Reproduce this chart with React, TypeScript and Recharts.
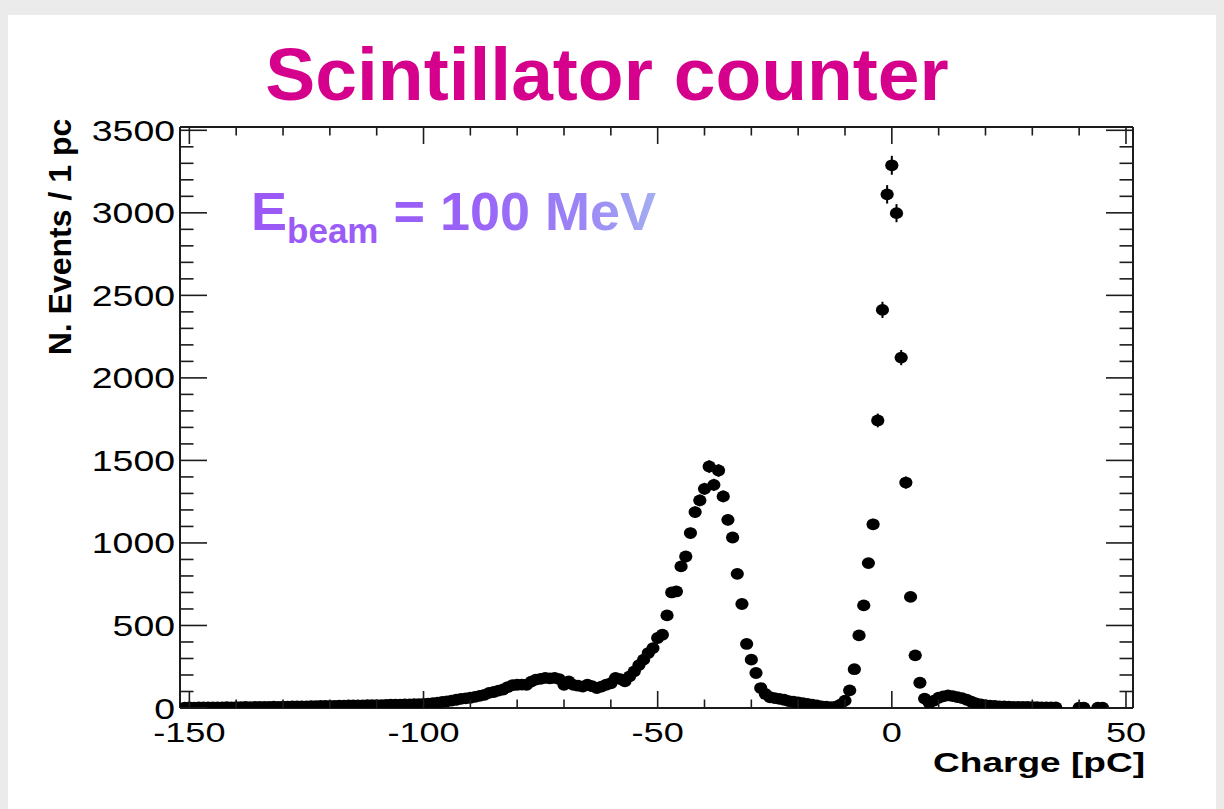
import React from 'react';
import { ScatterChart, Scatter, XAxis, YAxis, ErrorBar } from 'recharts';

// Histogram: bin centres start at -151 pC, width 1 pC; null = empty bin (not drawn)
const BIN_START = -151;
const BIN_WIDTH = 1;
const counts: (number | null)[] = [
  // -151 .. -101
  2, 3, 2, 3, 3, 4, 3, 4, 4, 5, 4, 5, 5, 6, 5, 6, 6, 7, 7, 8, 7, 8, 8, 9, 9, 10,
  10, 11, 11, 12, 12, 13, 13, 14, 14, 15, 15, 16, 16, 17, 17, 18, 18, 19, 20, 20,
  21, 22, 22, 23, 24,
  // -100 .. -60
  25, 27, 30, 33, 37, 40, 45, 50, 55, 58, 62, 68, 73, 80, 92, 97, 105, 112, 127,
  138, 141, 142, 141, 160, 172, 176, 182, 180, 182, 175, 141, 161, 140, 135, 130,
  141, 132, 121, 130, 141, 150,
  // -59 .. -27
  182, 175, 161, 192, 222, 260, 293, 333, 363, 424, 444, 561, 700, 706, 858, 918,
  1060, 1187, 1258, 1328, 1463, 1352, 1439, 1282, 1140, 1033, 813, 630, 388, 293,
  212, 121, 85,
  // -26 .. -10
  65, 60, 55, 50, 42, 38, 34, 30, 25, 20, 15, 10, 8, 5, 8, 20, 45,
  // -9 .. 7
  107, 235, 440, 622, 878, 1113, 1742, 2412, 3112, 3288, 2998, 2123, 1366, 673,
  319, 153, 57,
  // 8 .. 45
  30, 45, 62, 70, 76, 72, 66, 60, 50, 38, 28, 22, 17, 14, 12, 10, 9, 8, 7, 7, 6,
  6, 5, 5, 4, 4, 3, 3, null, null, null, null, 2, 2, null, null, 2, 2,
];

const xTicks = [-150, -140, -130, -120, -110, -100, -90, -80, -70, -60, -50, -40, -30, -20, -10, 0, 10, 20, 30, 40, 50];
const xMajor = [-150, -100, -50, 0, 50];
const yTicks = [0, 100, 200, 300, 400, 500, 600, 700, 800, 900, 1000, 1100, 1200, 1300, 1400, 1500, 1600, 1700, 1800, 1900, 2000, 2100, 2200, 2300, 2400, 2500, 2600, 2700, 2800, 2900, 3000, 3100, 3200, 3300, 3400, 3500];
const yMajor = [0, 500, 1000, 1500, 2000, 2500, 3000, 3500];
const X_DOMAIN = [-152, 51.5];
const Y_DOMAIN = [0, 3520];

const TITLE = 'Scintillator counter';
const X_TITLE = 'Charge [pC]';
const Y_TITLE = 'N. Events / 1 pc';
const BEAM_MAIN = 'E';
const BEAM_SUB = 'beam';
const BEAM_REST = ' = 100 MeV';

const points = counts
  .map((c, i) => (c == null ? null : { x: BIN_START + i * BIN_WIDTH, y: c, err: Math.sqrt(c) }))
  .filter((p) => p !== null) as { x: number; y: number; err: number }[];

const FONT = '"Liberation Sans", Arial, Helvetica, sans-serif';
const AX = '#1c1c1c';
const STRETCH = 1.29;

function BottomTick(props: any) {
  const { x, y, payload } = props;
  const v = payload.value;
  const major = xMajor.includes(v);
  return (
    <g>
      <line x1={x} y1={y} x2={x} y2={y - (major ? 17 : 8.5)} stroke={AX} strokeWidth={1.6} />
      {major && (
        <g transform={`translate(${x},${y + 34}) scale(${STRETCH},1)`}>
          <text x={0} y={0} textAnchor="middle" fontFamily={FONT} fontSize={28} fill="#000">
            {String(v)}
          </text>
        </g>
      )}
    </g>
  );
}

function TopTick(props: any) {
  const { x, y, payload } = props;
  const major = xMajor.includes(payload.value);
  return <line x1={x} y1={y} x2={x} y2={y + (major ? 17 : 8.5)} stroke={AX} strokeWidth={1.6} />;
}

function LeftTick(props: any) {
  const { x, y, payload } = props;
  const v = payload.value;
  const major = yMajor.includes(v);
  return (
    <g>
      <line x1={x} y1={y} x2={x + (major ? 27 : 13.5)} y2={y} stroke={AX} strokeWidth={1.6} />
      {major && (
        <g transform={`translate(${x - 5},${y + 10.5}) scale(${STRETCH},1)`}>
          <text x={0} y={0} textAnchor="end" fontFamily={FONT} fontSize={29} fill="#000">
            {String(v)}
          </text>
        </g>
      )}
    </g>
  );
}

function RightTick(props: any) {
  const { x, y, payload } = props;
  const major = yMajor.includes(payload.value);
  return <line x1={x} y1={y} x2={x - (major ? 27 : 13.5)} y2={y} stroke={AX} strokeWidth={1.6} />;
}

const Marker = (p: any) => <ellipse cx={p.cx} cy={p.cy} rx={6.6} ry={5.9} fill="#000" />;
const NoMarker = () => <g />;

export default function App() {
  return (
    <div style={{ position: 'absolute', left: 0, top: 0, width: 1224, height: 809, background: '#ebebeb', overflow: 'hidden' }}>
      <div style={{ position: 'absolute', left: 8, top: 15, width: 1208, height: 794, background: '#ffffff' }} />
      <div style={{ position: 'absolute', left: 0, top: 0 }}>
        <ScatterChart width={1224} height={809} margin={{ top: 126, right: 90, bottom: 100, left: 179 }}>
          <XAxis
            xAxisId="b"
            type="number"
            dataKey="x"
            domain={X_DOMAIN}
            allowDataOverflow
            ticks={xTicks}
            interval={0}
            height={1}
            tickSize={0}
            tickMargin={0}
            tickLine={false}
            axisLine={{ stroke: AX, strokeWidth: 2 }}
            tick={<BottomTick />}
          />
          <XAxis
            xAxisId="t"
            orientation="top"
            type="number"
            dataKey="x"
            domain={X_DOMAIN}
            allowDataOverflow
            ticks={xTicks}
            interval={0}
            height={1}
            tickSize={0}
            tickMargin={0}
            tickLine={false}
            axisLine={{ stroke: AX, strokeWidth: 2 }}
            tick={<TopTick />}
          />
          <YAxis
            yAxisId="l"
            type="number"
            dataKey="y"
            domain={Y_DOMAIN}
            allowDataOverflow
            ticks={yTicks}
            interval={0}
            width={1}
            tickSize={0}
            tickMargin={0}
            tickLine={false}
            axisLine={{ stroke: AX, strokeWidth: 2 }}
            tick={<LeftTick />}
          />
          <YAxis
            yAxisId="r"
            orientation="right"
            type="number"
            dataKey="y"
            domain={Y_DOMAIN}
            allowDataOverflow
            ticks={yTicks}
            interval={0}
            width={1}
            tickSize={0}
            tickMargin={0}
            tickLine={false}
            axisLine={{ stroke: AX, strokeWidth: 2 }}
            tick={<RightTick />}
          />
          <Scatter data={points} xAxisId="t" yAxisId="r" shape={NoMarker} isAnimationActive={false} />
          <Scatter data={points} xAxisId="b" yAxisId="l" shape={Marker} fill="#000" isAnimationActive={false}>
            <ErrorBar dataKey="err" direction="y" width={0} stroke="#000" strokeWidth={2} isAnimationActive={false} />
          </Scatter>
        </ScatterChart>
      </div>
      <svg width={1224} height={809} style={{ position: 'absolute', left: 0, top: 0, pointerEvents: 'none' }}>
        <defs>
          <linearGradient id="beamGrad" gradientUnits="userSpaceOnUse" x1={250} y1={0} x2={660} y2={0}>
            <stop offset="0" stopColor="#9b58f6" />
            <stop offset="0.55" stopColor="#9a62f8" />
            <stop offset="0.8" stopColor="#9b84f6" />
            <stop offset="1" stopColor="#a4b0f1" />
          </linearGradient>
        </defs>
        <text x={607} y={100} textAnchor="middle" fontFamily={FONT} fontWeight="bold" fontSize={75} fill="#d5008c">
          {TITLE}
        </text>
        <text x={251} y={230} fontFamily={FONT} fontWeight="bold" fontSize={54} fill="url(#beamGrad)">
          {BEAM_MAIN}
          <tspan fontSize={35} dy={13}>{BEAM_SUB}</tspan>
          <tspan fontSize={54} dy={-13}>{BEAM_REST}</tspan>
        </text>
        <text
          transform="translate(71,237) rotate(-90)"
          textAnchor="middle"
          fontFamily={FONT}
          fontWeight="bold"
          fontSize={32}
          fill="#000"
        >
          {Y_TITLE}
        </text>
        <g transform={`translate(1145,772) scale(1.3,1)`}>
          <text x={0} y={0} textAnchor="end" fontFamily={FONT} fontWeight="bold" fontSize={28.5} fill="#000">
            {X_TITLE}
          </text>
        </g>
      </svg>
    </div>
  );
}
